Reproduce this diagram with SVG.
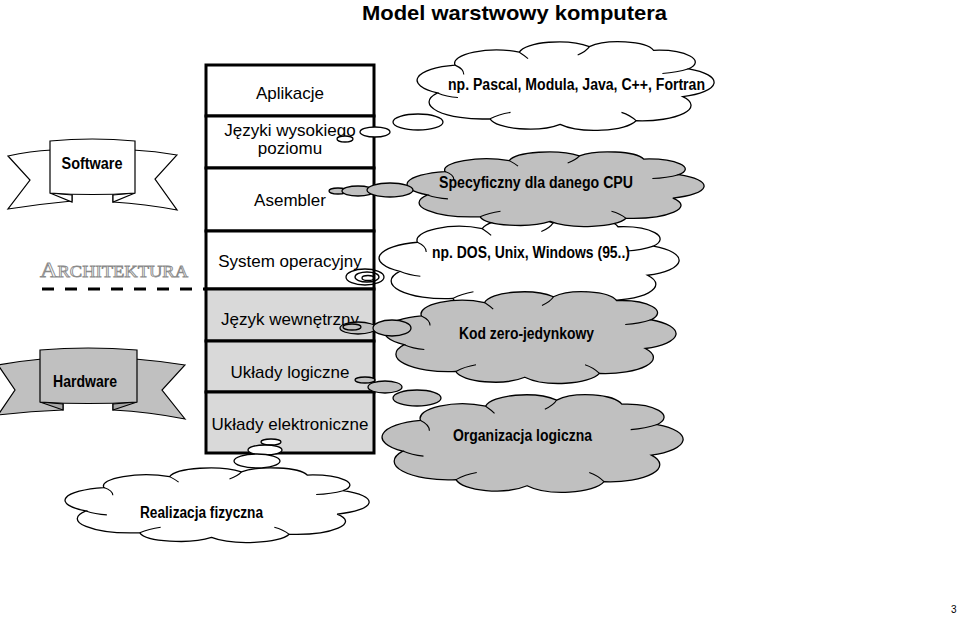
<svg xmlns="http://www.w3.org/2000/svg" width="960" height="617" viewBox="0 0 960 617">
<style>
.lay{stroke:#000;stroke-width:3}
.w{fill:#fff}
.g{fill:#d9d9d9}
.st{font-family:"Liberation Sans",Arial,sans-serif;font-size:17px;fill:#000;text-anchor:middle}
.ct{font-family:"Liberation Sans Narrow","Liberation Sans",Arial,sans-serif;font-size:16px;font-weight:bold;fill:#000}
.bub{stroke:#000;stroke-width:1.3}
.cw{fill:#fff}
.cg{fill:#c0c0c0}
.ban{stroke:#000;stroke-width:1.2}
</style>
<defs>
<g id="cloud">
<path vector-effect="non-scaling-stroke" stroke="#000" stroke-width="1.3" d="M6,58 A16.8,16.8 0 0 1 12,28 A14.3,14.3 0 0 1 34,14 A13.6,13.6 0 0 1 58,8 A12.3,12.3 0 0 1 80,12 A12.8,12.8 0 0 1 92,32 A16.5,16.5 0 0 1 90,62 A16.8,16.8 0 0 1 74,88 A14.5,14.5 0 0 1 48,92 A13.6,13.6 0 0 1 24,86 A18.3,18.3 0 0 1 6,58 Z"/>
<path vector-effect="non-scaling-stroke" fill="none" stroke="#000" stroke-width="1.1" d="M12,28 Q15,32 15,38 M34,14 Q36,18 37,21 M58,8 Q57,13 54,17 M92,32 Q88,36 83,37 M74,88 Q72,82 69,79 M24,86 Q27,81 31,79 M6,58 Q9,62 13,63"/>
</g>
</defs>

<text x="362" y="20" font-family="'Liberation Sans',Arial,sans-serif" font-size="21" font-weight="bold" textLength="305" lengthAdjust="spacingAndGlyphs">Model warstwowy komputera</text>

<g id="stack">
<g id="layer-aplikacje"><rect class="lay w" x="206" y="65" width="168" height="51"/><text class="st" x="290" y="99">Aplikacje</text></g>
<g id="layer-jezyki"><rect class="lay w" x="206" y="116" width="168" height="52"/><text class="st" x="290" y="136">Języki wysokiego</text><text class="st" x="290" y="154">poziomu</text></g>
<g id="layer-asembler"><rect class="lay w" x="206" y="168" width="168" height="63"/><text class="st" x="290" y="206">Asembler</text></g>
<g id="layer-system"><rect class="lay w" x="206" y="231" width="168" height="58"/><text class="st" x="290" y="267">System operacyjny</text></g>
<g id="layer-jezyk-wewn"><rect class="lay g" x="206" y="289" width="168" height="52"/><text class="st" x="290" y="325">Język wewnętrzny</text></g>
<g id="layer-uklady-log"><rect class="lay g" x="206" y="341" width="168" height="51"/><text class="st" x="290" y="378">Układy logiczne</text></g>
<g id="layer-uklady-el"><rect class="lay g" x="206" y="392" width="168" height="61"/><text class="st" x="290" y="430">Układy elektroniczne</text></g>
</g>

<g id="banner-software">
<path class="ban" fill="#fff" d="M52,150 Q30,151 8,156 L30,180 L8,209 Q40,204 72,201 L72,190 L52,190 Z"/>
<path class="ban" fill="#fff" d="M133,150 Q155,151 177,155 L155,179 L177,210 Q145,204 113,202 L113,190 L133,190 Z"/>
<path class="ban" fill="#fff" d="M50,193 L72,202 L72,195 Z"/>
<path class="ban" fill="#fff" d="M135,193 L113,202 L113,195 Z"/>
<path class="ban" fill="#fff" d="M50,141 Q92,137 135,141 L135,193 Q92,196 50,193 Z"/>
<text x="92" y="169" text-anchor="middle" font-family="'Liberation Sans Narrow','Liberation Sans',Arial,sans-serif" font-size="17" font-weight="bold" textLength="61" lengthAdjust="spacingAndGlyphs">Software</text>
</g>

<g id="banner-hardware">
<path class="ban" fill="#c0c0c0" d="M42,359 Q20,361 -2,365 L15,390 L-2,415 Q30,411 63,410 L63,398 L42,398 Z"/>
<path class="ban" fill="#c0c0c0" d="M135,359 Q160,361 185,365 L162,390 L185,419 Q150,412 113,410 L113,398 L135,398 Z"/>
<path class="ban" fill="#a6a6a6" d="M40,402 L63,410 L63,404 Z"/>
<path class="ban" fill="#a6a6a6" d="M137,402 L113,410 L113,404 Z"/>
<path class="ban" fill="#c0c0c0" d="M40,350 Q88,346 137,350 L137,402 Q88,405 40,402 Z"/>
<text x="85" y="387" text-anchor="middle" font-family="'Liberation Sans Narrow','Liberation Sans',Arial,sans-serif" font-size="17" font-weight="bold" textLength="64" lengthAdjust="spacingAndGlyphs">Hardware</text>
</g>

<g id="label-architektura">
<text x="40" y="277" font-family="'Liberation Serif',serif" fill="#fff" stroke="#8a8a8a" stroke-width="0.8" textLength="148" lengthAdjust="spacingAndGlyphs"><tspan font-size="21">A</tspan><tspan font-size="16">RCHITEKTURA</tspan></text>
</g>

<g id="cloud-pascal">
<use href="#cloud" class="cw" transform="translate(420,39.2) scale(2.92,0.926)"/>
<text class="ct" x="448" y="90" textLength="257" lengthAdjust="spacingAndGlyphs">np. Pascal, Modula, Java, C++, Fortran</text>
</g>
<g id="cloud-dos">
<use href="#cloud" class="cw" transform="translate(382,215.1) scale(2.95,0.97)"/>
<text class="ct" x="432" y="258" textLength="198" lengthAdjust="spacingAndGlyphs">np. DOS, Unix, Windows (95..)</text>
</g>
<g id="cloud-cpu">
<use href="#cloud" class="cg" transform="translate(410,149.7) scale(2.92,0.78)"/>
<text class="ct" x="439" y="188" textLength="194" lengthAdjust="spacingAndGlyphs">Specyficzny dla danego CPU</text>
</g>
<g id="cloud-kod">
<use href="#cloud" class="cg" transform="translate(387,289.1) scale(2.87,0.958)"/>
<text class="ct" x="459" y="339" textLength="135" lengthAdjust="spacingAndGlyphs">Kod zero-jedynkowy</text>
</g>
<g id="cloud-organizacja">
<use href="#cloud" class="cg" transform="translate(385,391.9) scale(2.96,1.02)"/>
<text class="ct" x="453" y="441" textLength="139" lengthAdjust="spacingAndGlyphs">Organizacja logiczna</text>
</g>
<g id="cloud-realizacja">
<use href="#cloud" class="cw" transform="translate(68,465.7) scale(2.99,0.78)"/>
<text class="ct" x="140" y="518" textLength="123" lengthAdjust="spacingAndGlyphs">Realizacja fizyczna</text>
</g>

<g id="connectors">
<ellipse class="bub cw" cx="345" cy="139" rx="8" ry="3"/>
<ellipse class="bub cw" cx="375" cy="132" rx="15" ry="5"/>
<ellipse class="bub cw" cx="418" cy="122" rx="25" ry="8"/>

<ellipse class="bub cg" cx="338" cy="191" rx="9" ry="3"/>
<ellipse class="bub cg" cx="358" cy="191" rx="16" ry="5"/>
<ellipse class="bub cg" cx="390" cy="190" rx="23" ry="7"/>

<ellipse class="bub" fill="none" cx="365" cy="277" rx="19" ry="8"/>
<ellipse class="bub" fill="none" cx="367" cy="277" rx="12" ry="5"/>
<ellipse class="bub" fill="none" cx="368" cy="278" rx="6" ry="2.5"/>

<ellipse class="bub cg" cx="358" cy="328" rx="18" ry="6"/>
<ellipse class="bub cg" cx="352" cy="327" rx="9" ry="3"/>
<ellipse class="bub cg" cx="392" cy="328" rx="19" ry="8"/>

<ellipse class="bub cg" cx="365" cy="380" rx="10" ry="3"/>
<ellipse class="bub cg" cx="385" cy="387" rx="17" ry="6"/>
<ellipse class="bub cg" cx="417" cy="398" rx="24" ry="8"/>

<ellipse class="bub cw" cx="271" cy="442" rx="10" ry="3"/>
<ellipse class="bub cw" cx="265" cy="450" rx="17" ry="5"/>
<ellipse class="bub cw" cx="257" cy="461" rx="23" ry="7"/>
</g>

<line x1="42" y1="289" x2="206" y2="289" stroke="#000" stroke-width="3" stroke-dasharray="12 11"/>

<text x="951" y="613" font-family="'Liberation Sans',Arial,sans-serif" font-size="10">3</text>
</svg>
